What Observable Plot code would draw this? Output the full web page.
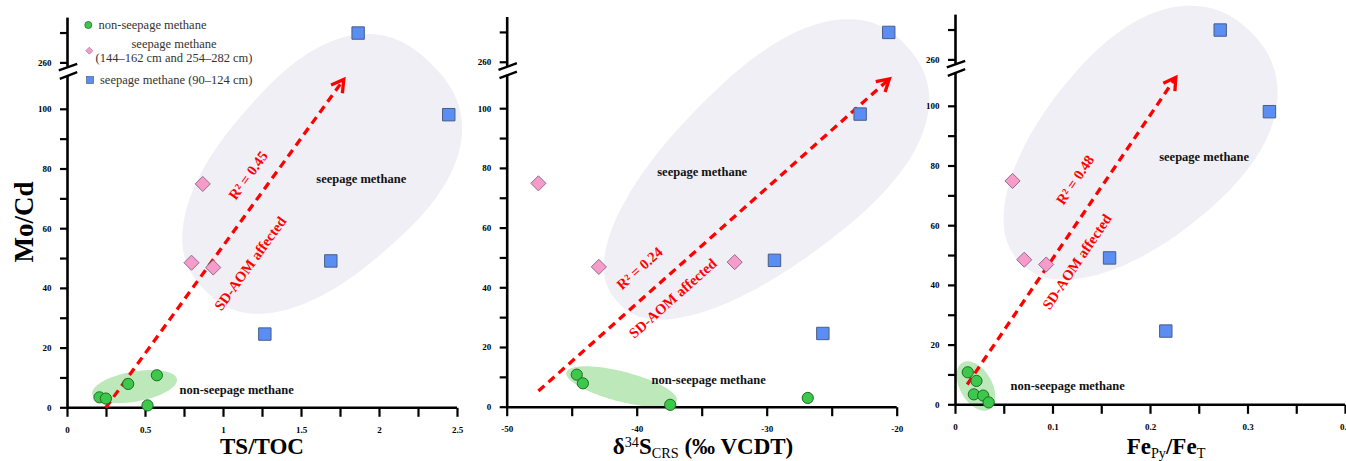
<!DOCTYPE html>
<html><head><meta charset="utf-8">
<script src="https://cdn.jsdelivr.net/npm/d3@7"></script>
<script src="https://cdn.jsdelivr.net/npm/@observablehq/plot@0.6"></script>
<style>
body{margin:0;background:#fff;}
#wrap{position:relative;width:1346px;height:461px;overflow:hidden;font-family:"Liberation Serif","Times New Roman",serif;color:#111;}
#wrap svg{position:absolute;left:0;top:0;}
.ov{position:absolute;white-space:nowrap;line-height:1;}
.leg{font-size:12.5px;color:#333;}
.xt{font-size:23px;font-weight:bold;transform:translateX(-50%);color:#000;}
.xt sub,.xt sup{font-size:62%;font-weight:normal;line-height:0;}
.xt sub{vertical-align:-0.25em;}
.xt sup{vertical-align:0.5em;}
.yt{font-size:27px;font-weight:bold;color:#000;transform:translate(-50%,-50%) rotate(-90deg);}
</style></head><body><div id="wrap"></div>
<script>
// ---------- data ----------
// non-seepage methane
const moCdNon   = [10.9, 8.0, 3.5, 3.1, 0.8];
const tsTocNon  = [0.573, 0.389, 0.205, 0.246, 0.513];
const d34sNon   = [-44.65, -44.18, null, -26.88, -37.46];
const fePyNon   = [0.0126, 0.0215, 0.0188, 0.0284, 0.034];
// seepage methane (144–162 cm and 254–282 cm)
const moCdPink  = [75.0, 48.6, 47.0];
const tsTocPink = [0.867, 0.795, 0.934];
const d34sPink  = [-47.6, -32.5, -42.95];
const fePyPink  = [0.0585, 0.0705, 0.093];
// seepage methane (90–124 cm)
const moCdBlue  = [270, 98.2, 49.2, 24.7];
const tsTocBlue = [1.863, 2.444, 1.688, 1.265];
const d34sBlue  = [-20.65, -22.85, -29.44, -25.72];
const fePyBlue  = [0.2715, 0.322, 0.158, 0.2157];

// ticks
const yTicks = [0,10,20,30,40,50,60,70,80,90,100,260,270];
const yTickLabels = [0,20,40,60,80,100,260];
const tsTocTicks = [0,0.25,0.5,0.75,1,1.25,1.5,1.75,2,2.25,2.5];
const tsTocTickLabels = [0,0.5,1,1.5,2,2.5];
const d34sTicks = [-50,-45,-40,-35,-30,-25,-20];
const d34sTickLabels = [-50,-40,-30,-20];
const fePyTicks = [0,0.05,0.1,0.15,0.2,0.25,0.3,0.35,0.4];
const fePyTickLabels = [0,0.1,0.2,0.3,0.4];

const legendLabels = ["non-seepage methane", "seepage methane", "(144–162 cm and 254–282 cm)", "seepage methane (90–124 cm)"];
const r2Labels = ["R² = 0.45", "R² = 0.24", "R² = 0.48"];
const arrowLabel = "SD-AOM affected";
const zoneLabels = ["seepage methane", "non-seepage methane"];

// ---------- tables ----------
const nonRows  = moCdNon.map((m, i) => ({mo: m, ts: tsTocNon[i], d34: d34sNon[i], fe: fePyNon[i]}));
const pinkRows = moCdPink.map((m, i) => ({mo: m, ts: tsTocPink[i], d34: d34sPink[i], fe: fePyPink[i]}));
const blueRows = moCdBlue.map((m, i) => ({mo: m, ts: tsTocBlue[i], d34: d34sBlue[i], fe: fePyBlue[i]}));

// ---------- broken y axis: gap 111.3–258.5 compressed ----------
const G0 = 111.3, G1 = 258.5, GAP = 2.75, YTOP = 275;
const brk = v => v <= G0 ? v : v >= G1 ? G0 + GAP + (v - G1) : G0 + GAP * (v - G0) / (G1 - G0);

// ---------- shapes (glyphs) ----------
// rotated super-ellipse, optionally egg-shaped (wider toward the +major end)
function egg(a, b, deg, k, n = 2) {
  const th = deg * Math.PI / 180, c = Math.cos(th), s = Math.sin(th), e = 2 / n;
  const pw = z => Math.sign(z) * Math.pow(Math.abs(z), e);
  return {draw(ctx) {
    const m = 180;
    for (let i = 0; i < m; i++) {
      const t = 2 * Math.PI * i / m;
      const cu = pw(Math.cos(t));
      const u = a * cu, v = b * pw(Math.sin(t)) * (1 + k * cu);
      const px = u * c + v * s, py = -u * s + v * c;
      i ? ctx.lineTo(px, py) : ctx.moveTo(px, py);
    }
    ctx.closePath();
  }};
}
const tickLeft = {draw(ctx) { ctx.moveTo(-7.5, 0); ctx.lineTo(0, 0); }};
const tickDown = {draw(ctx) { ctx.moveTo(0, 0); ctx.lineTo(0, 9); }};
const breakMark = {draw(ctx) {
  ctx.moveTo(-8.7, -1); ctx.lineTo(9.7, -7.7);
  ctx.moveTo(-7.7, 7.3); ctx.lineTo(9.7, 0.7);
}};
const chevron = {draw(ctx) { ctx.moveTo(-12, -7); ctx.lineTo(0, 0); ctx.lineTo(-12, 7); }};

// ---------- panels ----------
const panels = [
  {field: "ts", xDomain: [0, 2.5], xRange: [67, 457], y0: 407.3,
   ticks: tsTocTicks, labels: tsTocTickLabels,
   blob: {x: 1.609, y: 77.15, shape: egg(160, 99, 45, 0.1, 2.4)},
   green: {x: 0.43, y: 7.1, shape: egg(43, 15, 10, 0)},
   arrow: {x1: 0.245, y1: 0, x2: 1.771, y2: 110},
   r2: {x: 1.16, y: 77.8}, sd: {x: 1.173, y: 48.3},
   seep: {x: 1.883, y: 76.7}, non: {x: 0.718, y: 5.8}},
  {field: "d34", xDomain: [-50, -20], xRange: [506.7, 896.7], y0: 406.7,
   ticks: d34sTicks, labels: d34sTickLabels,
   blob: {x: -30.36, y: 77.95, shape: egg(193, 93, 41, 0.15, 2.3)},
   green: {x: -41.2, y: 6.9, shape: egg(57, 15, -14.4, 0)},
   arrow: {x1: -47.6, y1: 5.4, x2: -20.6, y2: 110},
   r2: {x: -39.8, y: 46.5}, sd: {x: -37.25, y: 36.4},
   seep: {x: -35, y: 78.7}, non: {x: -38.9, y: 9.2}},
  {field: "fe", xDomain: [0, 0.4], xRange: [955, 1345], y0: 404.3,
   ticks: fePyTicks, labels: fePyTickLabels,
   blob: {x: 0.1849, y: 86.2, shape: egg(163, 95, 45, 0.15, 2.2)},
   green: {x: 0.021, y: 6.3, shape: egg(27, 16, -60, 0)},
   arrow: {x1: 0.012, y1: 6.8, x2: 0.226, y2: 109.7},
   r2: {x: 0.123, y: 75.3}, sd: {x: 0.1248, y: 47.9},
   seep: {x: 0.255, y: 83.1}, non: {x: 0.0564, y: 6.2}}
];
const PXU = 2.985; // pixels per Mo/Cd unit

function mkScale(opts, fallback) {
  try { const s = Plot.scale(opts); if (s && s.apply) return s; } catch (e) {}
  return {apply: fallback};
}

const wrap = document.getElementById("wrap");
const font = "Liberation Serif, Times New Roman, serif";

panels.forEach((p, pi) => {
  const yDomain = [0, brk(YTOP)];
  const yRange = [p.y0, p.y0 - brk(YTOP) * PXU];
  const xs = mkScale({x: {domain: p.xDomain, range: p.xRange}}, d3.scaleLinear(p.xDomain, p.xRange));
  const ys = mkScale({y: {domain: yDomain, range: yRange}}, d3.scaleLinear(yDomain, yRange));
  const a = p.arrow;
  const ang = Math.atan2(ys.apply(brk(a.y2)) - ys.apply(brk(a.y1)), xs.apply(a.x2) - xs.apply(a.x1)) * 180 / Math.PI;
  const x0 = p.xDomain[0], x1 = p.xDomain[1];
  const f = p.field;
  const fin = rows => rows.filter(d => d[f] != null);
  const Y = key => d => brk(d[key]);

  const svg = Plot.plot({
    width: 1346, height: 461,
    marginTop: 0, marginRight: 0, marginBottom: 0, marginLeft: 0,
    style: {background: "transparent", fontFamily: font, overflow: "visible"},
    x: {domain: p.xDomain, range: p.xRange, axis: null},
    y: {domain: yDomain, range: yRange, axis: null},
    marks: [
      // zones
      Plot.dot([p.blob], {x: "x", y: Y("y"), symbol: p.blob.shape, fill: "#efeff5", stroke: "none"}),
      Plot.dot([p.green], {x: "x", y: Y("y"), symbol: p.green.shape, fill: "#bde8ba", stroke: "none"}),
      // axes
      Plot.ruleX([{lo: 0, hi: G0}, {lo: G1, hi: YTOP}], {x: x0, y1: Y("lo"), y2: Y("hi"), stroke: "#000", strokeWidth: 2.6}),
      Plot.ruleY([0], {x1: x0, x2: x1, stroke: "#000", strokeWidth: 2.6}),
      Plot.dot(yTicks, {x: x0, y: d => brk(d), symbol: tickLeft, fill: "none", stroke: "#000", strokeWidth: 2.2}),
      Plot.dot(p.ticks, {x: d => d, y: 0, symbol: tickDown, fill: "none", stroke: "#000", strokeWidth: 2.2}),
      Plot.dot([(G0 + G1) / 2], {x: x0, y: d => brk(d), symbol: breakMark, fill: "none", stroke: "#000", strokeWidth: 2.4}),
      Plot.text(yTickLabels, {x: x0, y: d => brk(d), text: d => String(d), dx: -16, textAnchor: "end", fontSize: 9, fontWeight: "bold", fill: "#000", fontFamily: font}),
      Plot.text(p.labels, {x: d => d, y: 0, text: d => String(d), dy: 22, fontSize: 9, fontWeight: "bold", fill: "#000", fontFamily: font}),
      // zone labels
      Plot.text([p.seep], {x: "x", y: Y("y"), text: () => zoneLabels[0], fontSize: 12.5, fontWeight: "bold", fill: "#111", fontFamily: font}),
      Plot.text([p.non], {x: "x", y: Y("y"), text: () => zoneLabels[1], textAnchor: "start", fontSize: 12.5, fontWeight: "bold", fill: "#111", fontFamily: font}),
      // trend arrow
      Plot.link([a], {x1: "x1", y1: Y("y1"), x2: "x2", y2: Y("y2"), stroke: "#ff0000", strokeWidth: 3.3, strokeDasharray: "8,5.5"}),
      Plot.dot([a], {x: "x2", y: Y("y2"), symbol: chevron, rotate: ang, fill: "none", stroke: "#ff0000", strokeWidth: 3.3}),
      Plot.text([p.r2], {x: "x", y: Y("y"), text: () => r2Labels[pi], rotate: ang, fontSize: 14.5, fontWeight: "bold", fill: "#ff0000", fontFamily: font}),
      Plot.text([p.sd], {x: "x", y: Y("y"), text: () => arrowLabel, rotate: ang, fontSize: 14.5, fontWeight: "bold", fill: "#ff0000", fontFamily: font}),
      // points
      Plot.dot(fin(nonRows), {x: f, y: Y("mo"), symbol: "circle", r: 5.6, fill: "#3cc94b", stroke: "#1f6a26", strokeWidth: 1}),
      Plot.dot(fin(pinkRows), {x: f, y: Y("mo"), symbol: "diamond2", r: 6.8, fill: "#f79bcb", stroke: "#8d6d8c", strokeWidth: 1}),
      Plot.dot(fin(blueRows), {x: f, y: Y("mo"), symbol: "square", r: 7, fill: "#5b8ef4", stroke: "#4a5d84", strokeWidth: 1})
    ]
  });
  wrap.appendChild(svg);
});

// ---------- overlays: legend and titles ----------
function ov(html, cls, css) {
  const d = document.createElement("div");
  d.className = "ov " + cls;
  d.innerHTML = html;
  Object.assign(d.style, css);
  wrap.appendChild(d);
  return d;
}
const legSvg = document.createElementNS("http://www.w3.org/2000/svg", "svg");
legSvg.setAttribute("width", 1346); legSvg.setAttribute("height", 461);
legSvg.innerHTML =
  '<circle cx="88.3" cy="25" r="3.5" fill="#3cc94b" stroke="#1f6a26" stroke-width="0.8"/>' +
  '<path d="M89.3,47.2L92.8,50.7L89.3,54.2L85.8,50.7Z" fill="#f79bcb" stroke="#8d6d8c" stroke-width="0.6"/>' +
  '<rect x="86.6" y="76.6" width="6.8" height="6.8" fill="#5b8ef4" stroke="#4a5d84" stroke-width="0.7"/>';
wrap.appendChild(legSvg);
ov(legendLabels[0], "leg", {left: "98.5px", top: "18.5px"});
ov(legendLabels[1], "leg", {left: "174px", top: "38px", transform: "translateX(-50%)"});
ov(legendLabels[2], "leg", {left: "174px", top: "51.5px", transform: "translateX(-50%)"});
ov(legendLabels[3], "leg", {left: "100px", top: "73.5px"});

ov("Mo/Cd", "yt", {left: "24px", top: "222px"});
ov("TS/TOC", "xt", {left: "262px", top: "435px"});
ov("δ<sup>34</sup>S<sub>CRS</sub> (‰ VCDT)", "xt", {left: "703px", top: "435px"});
ov("Fe<sub>Py</sub>/Fe<sub>T</sub>", "xt", {left: "1166px", top: "435px"});
</script>
</body></html>
